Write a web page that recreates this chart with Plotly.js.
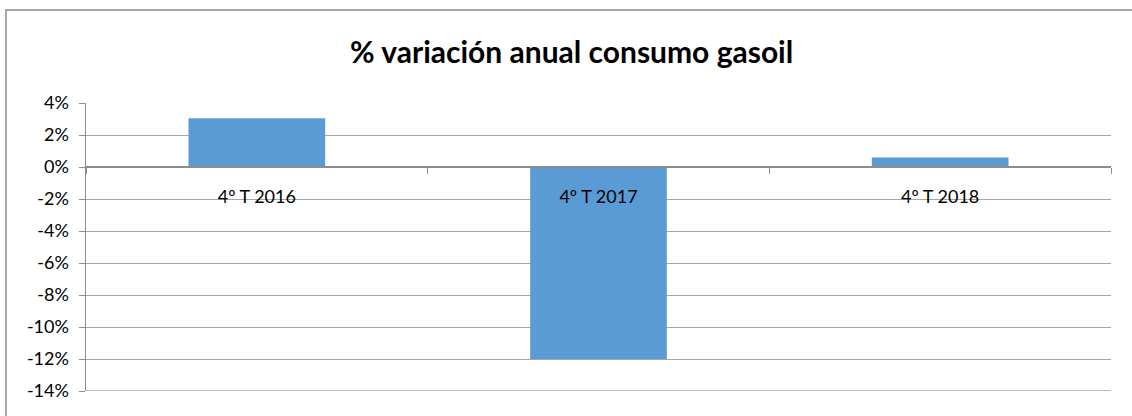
<!DOCTYPE html>
<html><head><meta charset="utf-8">
<script src="https://cdn.plot.ly/plotly-3.0.1.min.js"></script>
<style>html,body{margin:0;padding:0;background:#fff}#chart{width:1132px;height:416px}</style>
</head><body><div id="chart"></div>
<script>
const categories = ["4º T 2016", "4º T 2017", "4º T 2018"];
const values = [3.05, -12.0, 0.6];
const yTickVals = [4, 2, 0, -2, -4, -6, -8, -10, -12, -14];
const yTickText = ["4%", "2%", "0%", "-2%", "-4%", "-6%", "-8%", "-10%", "-12%", "-14%"];
const chartTitle = "% variación anual consumo gasoil";

const yMin = -14, yMax = 4;
const font = "Lato, 'Liberation Sans', sans-serif";

const trace = {
  type: "bar", x: categories, y: values,
  marker: {color: "#5b9bd5"}, hoverinfo: "skip"
};

const layout = {
  width: 1132, height: 416,
  margin: {l: 86, r: 21, t: 103, b: 25, pad: 0},
  paper_bgcolor: "#fff", plot_bgcolor: "#fff",
  showlegend: false, bargap: 0.6,
  font: {family: font, size: 18, color: "#000"},
  title: {text: "<b>" + chartTitle + "</b>", font: {family: font, size: 30, color: "#000"},
          x: 0.505, xref: "container", xanchor: "center", y: 0.875, yref: "container", yanchor: "middle"},
  xaxis: {
    type: "category", anchor: "free", position: (0 - yMin) / (yMax - yMin),
    showline: true, linecolor: "#8c8c8c", linewidth: 2,
    showgrid: false, zeroline: false,
    ticks: "outside", tickson: "boundaries", ticklen: 6, tickcolor: "#8c8c8c", tickwidth: 1,
    tickfont: {family: font, size: 18, color: "#000"}, ticklabelstandoff: 13,
    fixedrange: true
  },
  yaxis: {
    range: [yMin, yMax], tickvals: yTickVals, ticktext: yTickText,
    showline: true, linecolor: "#8c8c8c", linewidth: 1.5,
    showgrid: true, gridcolor: "#a6a6a6", gridwidth: 1,
    zeroline: false,
    ticks: "outside", ticklen: 6, tickcolor: "#8c8c8c",
    tickfont: {family: font, size: 18, color: "#000"}, ticklabelstandoff: 6,
    fixedrange: true
  },
  shapes: [{
    type: "rect", xref: "paper", yref: "paper",
    x0: (6 - 86) / 1025, x1: 1.2, y0: -0.3, y1: (391 - 10) / 288,
    line: {color: "#8c8c8c", width: 1.5}, fillcolor: "rgba(0,0,0,0)", layer: "below"
  }, {
    type: "line", xref: "paper", yref: "y",
    x0: 0, x1: 1, y0: yMin, y1: yMin,
    line: {color: "#a6a6a6", width: 1.5}, layer: "below"
  }]
};

Plotly.newPlot("chart", [trace], layout, {displayModeBar: false, staticPlot: true});
</script></body></html>
